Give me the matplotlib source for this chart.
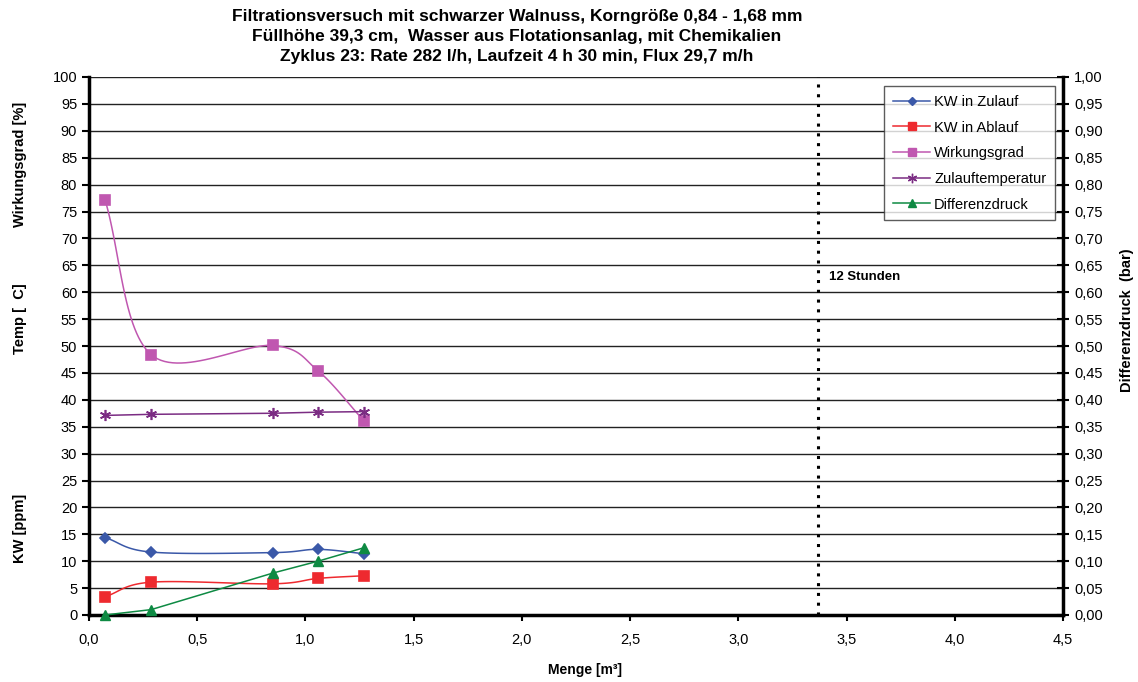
import numpy as np
import matplotlib.pyplot as plt
from matplotlib.ticker import FuncFormatter

plt.rcParams['font.family'] = ['Liberation Sans', 'DejaVu Sans']

# Messwerte
menge = [0.074, 0.287, 0.85, 1.058, 1.27]
kw_zulauf = [14.4, 11.7, 11.6, 12.2, 11.4]
kw_ablauf = [3.4, 6.1, 5.8, 6.8, 7.3]
wirkungsgrad = [77.2, 48.4, 50.1, 45.4, 36.1]
temperatur = [37.1, 37.3, 37.5, 37.7, 37.8]
differenzdruck = [0.0, 0.01, 0.078, 0.10, 0.125]

marke_x = 3.37
marke_text = "12 Stunden"


def glatt(x, y, n=30):
    # Catmull-Rom Kurve durch die Punkte (geglättete Linie)
    x = np.asarray(x, float)
    y = np.asarray(y, float)
    px = np.concatenate([[2 * x[0] - x[1]], x, [2 * x[-1] - x[-2]]])
    py = np.concatenate([[2 * y[0] - y[1]], y, [2 * y[-1] - y[-2]]])
    t = np.linspace(0, 1, n)
    xs, ys = [], []
    for i in range(1, len(px) - 2):
        for p, out in ((px, xs), (py, ys)):
            p0, p1, p2, p3 = p[i - 1], p[i], p[i + 1], p[i + 2]
            out.append(0.5 * ((2 * p1) + (-p0 + p2) * t
                              + (2 * p0 - 5 * p1 + 4 * p2 - p3) * t ** 2
                              + (-p0 + 3 * p1 - 3 * p2 + p3) * t ** 3))
    return np.concatenate(xs), np.concatenate(ys)


komma = FuncFormatter(lambda v, p: f"{v:.1f}".replace(".", ","))
komma2 = FuncFormatter(lambda v, p: f"{v:.2f}".replace(".", ","))

fig = plt.figure(figsize=(11.38, 6.82), dpi=100)
ax = fig.add_axes([89 / 1138, 1 - 615 / 682, (1063 - 89) / 1138, (615 - 77) / 682])
ax2 = ax.twinx()

ax.set_xlim(0, 4.5)
ax.set_ylim(0, 100)
ax2.set_ylim(0, 1)
ax.set_xticks(np.arange(0, 4.51, 0.5))
ax.set_yticks(np.arange(0, 101, 5))
ax2.set_yticks(np.arange(0, 1.001, 0.05))
ax.xaxis.set_major_formatter(komma)
ax2.yaxis.set_major_formatter(komma2)

ax.grid(axis="y", color="#222222", linewidth=1.0)
ax.set_axisbelow(True)
for a in (ax, ax2):
    a.spines["top"].set_visible(False)
ax.spines["left"].set_linewidth(2.5)
ax.spines["bottom"].set_linewidth(2.5)
ax2.spines["right"].set_linewidth(2.5)
ax2.spines["left"].set_visible(False)
ax2.spines["bottom"].set_visible(False)
ax.tick_params(axis="y", direction="out", length=5, width=1.5, labelsize=10.5, colors="black")
ax.tick_params(axis="x", direction="out", length=4, width=1.5, labelsize=10.5, pad=9)
ax2.tick_params(axis="y", direction="inout", length=8, width=1.5, labelsize=10.5, pad=4)

serien = [
    (kw_zulauf, "KW in Zulauf", "#3A58A8", "D", 5, True),
    (kw_ablauf, "KW in Ablauf", "#EE2A2F", "s", 6.5, True),
    (wirkungsgrad, "Wirkungsgrad", "#C057B0", "s", 6.5, True),
    (temperatur, "Zulauftemperatur", "#7B2C83", (6, 2, 0), 8, False),
]
handles = []
for werte, name, farbe, marker, ms, smooth in serien:
    if smooth:
        gx, gy = glatt(menge, werte)
    else:
        gx, gy = menge, werte
    ax.plot(gx, gy, color=farbe, linewidth=1.1, zorder=3)
    ax.plot(menge, werte, linestyle="none", marker=marker, markersize=ms,
            color=farbe, markeredgewidth=1.2, zorder=4)
    handles.append(plt.Line2D([], [], color=farbe, linewidth=1.1, marker=marker,
                              markersize=ms * 0.85, label=name))

ax2.plot(menge, differenzdruck, color="#0E8A43", linewidth=1.1, marker="^",
         markersize=7, zorder=4, clip_on=False)
handles.append(plt.Line2D([], [], color="#0E8A43", linewidth=1.1, marker="^",
                          markersize=6, label="Differenzdruck"))

ax.axvline(marke_x, color="black", linestyle=(0, (1, 2.2)), linewidth=2.2, zorder=3)
ax.text(marke_x + 0.05, 62.8, marke_text, fontsize=9.5, fontweight="bold", va="center")

leg = ax2.legend(handles=handles, loc="upper right", bbox_to_anchor=(0.9918, 0.983),
                 fontsize=10.5, frameon=True, fancybox=False, edgecolor="#333333",
                 handlelength=2.6, borderpad=0.6, labelspacing=0.8, handletextpad=0.25,
                 borderaxespad=0)
leg.get_frame().set_linewidth(1.0)

titel = [
    "Filtrationsversuch mit schwarzer Walnuss, Korngröße 0,84 - 1,68 mm",
    "Füllhöhe 39,3 cm,  Wasser aus Flotationsanlag, mit Chemikalien",
    "Zyklus 23: Rate 282 l/h, Laufzeit 4 h 30 min, Flux 29,7 m/h",
]
for i, zeile in enumerate(titel):
    fig.text(517 / 1138, 1 - (17 + 20 * i) / 682, zeile, ha="center", va="center",
             fontsize=12.5, fontweight="bold")

fig.text(20 / 1138, 1 - 164 / 682, "Wirkungsgrad [%]", rotation=90, ha="center",
         va="center", fontsize=10.5, fontweight="bold")
fig.text(20 / 1138, 1 - 319 / 682, "Temp [  C]", rotation=90, ha="center",
         va="center", fontsize=10.5, fontweight="bold")
fig.text(20 / 1138, 1 - 528 / 682, "KW [ppm]", rotation=90, ha="center",
         va="center", fontsize=10.5, fontweight="bold")
fig.text(1127 / 1138, 1 - 320 / 682, "Differenzdruck  (bar)", rotation=90, ha="center",
         va="center", fontsize=10.5, fontweight="bold")
fig.text(585 / 1138, 1 - 670 / 682, "Menge [m³]", ha="center", va="center",
         fontsize=10, fontweight="bold")

fig.savefig("out.png", dpi=100)
